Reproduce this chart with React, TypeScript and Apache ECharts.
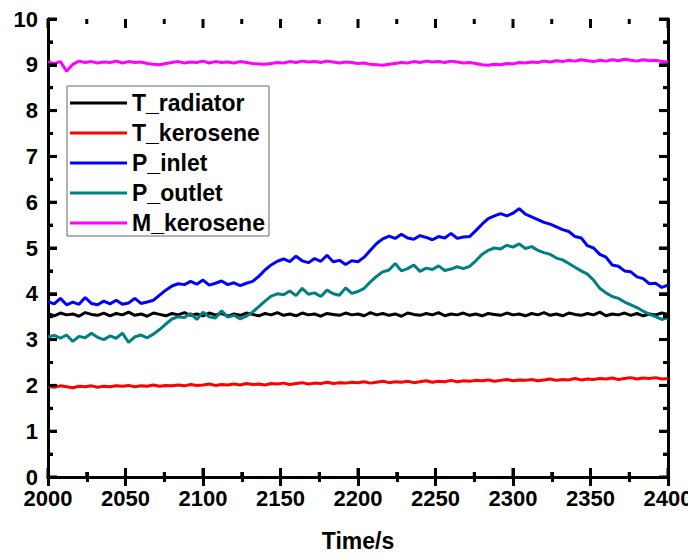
import React, { useEffect, useRef } from "react";
import * as echarts from "echarts";

// sampling grid (s), one sample every 4 s
const TIMES: number[] = Array.from({ length: 101 }, (_, i) => 2000 + i * 4);

const T_RADIATOR = [
  3.57,3.52,3.58,3.54,3.56,3.51,3.59,3.55,3.53,3.58,
  3.52,3.57,3.54,3.60,3.53,3.56,3.51,3.58,3.55,3.52,
  3.57,3.54,3.59,3.53,3.56,3.52,3.58,3.54,3.57,3.51,
  3.56,3.53,3.58,3.55,3.52,3.57,3.54,3.59,3.53,3.56,
  3.52,3.58,3.54,3.56,3.51,3.57,3.55,3.53,3.58,3.54,
  3.56,3.52,3.59,3.54,3.57,3.53,3.56,3.51,3.58,3.55,
  3.53,3.57,3.54,3.59,3.52,3.56,3.54,3.58,3.53,3.56,
  3.52,3.57,3.55,3.53,3.58,3.54,3.56,3.52,3.57,3.54,
  3.59,3.53,3.56,3.52,3.58,3.55,3.53,3.57,3.54,3.60,
  3.52,3.56,3.54,3.58,3.53,3.57,3.52,3.56,3.54,3.58,3.55,
];

const T_KEROSENE = [
  1.98,1.96,1.99,1.97,1.95,1.98,1.97,1.99,1.96,1.98,
  1.97,1.99,1.98,2.00,1.97,1.99,1.98,2.01,1.98,2.00,
  1.99,2.01,1.99,2.02,2.00,2.01,2.03,2.00,2.02,2.01,
  2.03,2.01,2.04,2.02,2.03,2.01,2.04,2.03,2.05,2.02,
  2.04,2.06,2.03,2.05,2.04,2.07,2.04,2.06,2.05,2.07,
  2.06,2.08,2.05,2.07,2.09,2.06,2.08,2.07,2.09,2.06,
  2.08,2.10,2.07,2.09,2.08,2.11,2.08,2.10,2.09,2.11,
  2.10,2.12,2.09,2.11,2.13,2.10,2.12,2.11,2.13,2.10,
  2.12,2.14,2.11,2.13,2.12,2.15,2.12,2.14,2.13,2.15,
  2.14,2.16,2.13,2.15,2.17,2.14,2.16,2.15,2.17,2.14,2.15,
];

const P_INLET = [
  3.83,3.78,3.90,3.76,3.82,3.77,3.92,3.79,3.76,3.84,
  3.78,3.86,3.77,3.80,3.90,3.79,3.82,3.86,3.97,4.08,
  4.17,4.22,4.20,4.27,4.21,4.30,4.19,4.23,4.28,4.20,
  4.24,4.18,4.23,4.27,4.38,4.52,4.63,4.71,4.76,4.70,
  4.82,4.72,4.68,4.77,4.71,4.84,4.70,4.73,4.64,4.72,
  4.70,4.80,4.95,5.10,5.20,5.26,5.21,5.30,5.22,5.19,
  5.27,5.23,5.18,5.25,5.22,5.32,5.21,5.24,5.25,5.38,
  5.52,5.64,5.70,5.75,5.70,5.76,5.86,5.74,5.68,5.62,
  5.56,5.52,5.46,5.40,5.36,5.25,5.22,5.05,5.00,4.86,
  4.80,4.63,4.60,4.50,4.48,4.37,4.33,4.22,4.23,4.14,4.19,
];

const P_OUTLET = [
  3.06,3.09,3.03,3.10,2.96,3.07,3.04,3.14,3.05,3.00,
  3.08,3.03,3.14,2.94,3.06,3.10,3.04,3.12,3.22,3.34,
  3.45,3.50,3.48,3.57,3.44,3.60,3.50,3.47,3.63,3.49,
  3.53,3.45,3.51,3.60,3.72,3.84,3.95,4.00,3.98,4.06,
  3.96,4.12,3.99,4.02,3.94,4.08,4.00,3.97,4.13,4.01,
  4.05,4.12,4.26,4.38,4.48,4.52,4.66,4.50,4.55,4.63,
  4.49,4.56,4.53,4.61,4.51,4.54,4.59,4.55,4.60,4.72,
  4.86,4.95,5.00,4.98,5.06,5.02,5.09,4.99,5.03,4.95,
  4.90,4.86,4.78,4.74,4.66,4.58,4.50,4.43,4.30,4.12,
  4.02,3.94,3.90,3.82,3.76,3.70,3.62,3.55,3.50,3.44,3.48,
];

const M_KEROSENE = [
  9.06,9.03,9.07,8.86,9.01,9.08,9.05,9.07,9.04,9.06,
  9.05,9.08,9.04,9.07,9.05,9.06,9.03,9.01,9.00,9.03,
  9.05,9.07,9.04,9.06,9.05,9.08,9.04,9.07,9.05,9.06,
  9.04,9.07,9.05,9.03,9.02,9.01,9.03,9.05,9.04,9.07,
  9.05,9.08,9.06,9.07,9.05,9.08,9.06,9.04,9.06,9.05,
  9.03,9.04,9.01,9.00,8.99,9.01,9.03,9.05,9.04,9.07,
  9.05,9.08,9.06,9.07,9.05,9.08,9.06,9.04,9.05,9.03,
  9.00,8.99,9.01,9.00,9.03,9.02,9.05,9.04,9.06,9.05,
  9.08,9.06,9.09,9.07,9.10,9.08,9.11,9.09,9.07,9.10,
  9.08,9.11,9.09,9.12,9.10,9.08,9.11,9.09,9.10,9.07,9.06,
];

const SERIES_NAMES = ["T_radiator", "T_kerosene", "P_inlet", "P_outlet", "M_kerosene"];
const SERIES_VALUES = [T_RADIATOR, T_KEROSENE, P_INLET, P_OUTLET, M_KEROSENE];
const SERIES_COLORS = ["#000000", "#ff0000", "#0000ff", "#008080", "#ff00ff"];

// tick values of the framed axes
const X_MAJOR_TICKS = [2000, 2050, 2100, 2150, 2200, 2250, 2300, 2350, 2400];
const X_MINOR_TICKS = [2025, 2075, 2125, 2175, 2225, 2275, 2325, 2375];
const Y_MAJOR_TICKS = [0, 1, 2, 3, 4, 5, 6, 7, 8, 9, 10];
const Y_MINOR_TICKS = [0.5, 1.5, 2.5, 3.5, 4.5, 5.5, 6.5, 7.5, 8.5, 9.5];
const X_MIN = 2000, X_MAX = 2400, Y_MIN = 0, Y_MAX = 10;

const FONT = "Arial, 'Liberation Sans', sans-serif";
const MAJOR_LEN = 9;
const MINOR_LEN = 5;

function axisCommon(showLabel: boolean) {
  return {
    axisLine: { show: true, lineStyle: { color: "#000", width: 3 } },
    axisTick: { show: true, inside: true, length: MAJOR_LEN, lineStyle: { color: "#000", width: 3 } },
    minorTick: { show: true, splitNumber: 2, length: MINOR_LEN, lineStyle: { color: "#000", width: 3 } },
    splitLine: { show: false },
    axisLabel: {
      show: showLabel,
      color: "#000",
      fontWeight: "bold",
      fontSize: 22,
      fontFamily: FONT,
      margin: 10,
      showMinLabel: true,
      showMaxLabel: true,
      formatter: (v: number) => String(v),
    },
  };
}

// tick items: [x, y, direction, length]; direction 0 up, 1 down, 2 right, 3 left
function buildTickData() {
  const d: number[][] = [];
  X_MAJOR_TICKS.forEach((x) => { d.push([x, Y_MIN, 0, MAJOR_LEN]); d.push([x, Y_MAX, 1, MAJOR_LEN]); });
  X_MINOR_TICKS.forEach((x) => { d.push([x, Y_MIN, 0, MINOR_LEN]); d.push([x, Y_MAX, 1, MINOR_LEN]); });
  Y_MAJOR_TICKS.forEach((y) => { d.push([X_MIN, y, 2, MAJOR_LEN]); d.push([X_MAX, y, 3, MAJOR_LEN]); });
  Y_MINOR_TICKS.forEach((y) => { d.push([X_MIN, y, 2, MINOR_LEN]); d.push([X_MAX, y, 3, MINOR_LEN]); });
  return d;
}

export default function App() {
  const ref = useRef<HTMLDivElement>(null);
  useEffect(() => {
    if (!ref.current) return;
    const chart = echarts.init(ref.current, undefined, { renderer: "svg" });
    chart.setOption({
      animation: false,
      backgroundColor: "#ffffff",
      grid: { left: 48, right: 28, top: 19, bottom: 79 },
      legend: {
        orient: "vertical",
        left: 67,
        top: 86,
        data: SERIES_NAMES,
        icon: "rect",
        itemWidth: 57,
        itemHeight: 3,
        itemGap: 6,
        padding: [5, 4, 1, 3],
        borderColor: "#666",
        borderWidth: 1,
        backgroundColor: "#fff",
        textStyle: { color: "#000", fontWeight: "bold", fontSize: 23, fontFamily: FONT, lineHeight: 24 },
      },
      xAxis: [
        {
          type: "value",
          position: "bottom",
          min: X_MIN,
          max: X_MAX,
          interval: 50,
          name: "Time/s",
          nameLocation: "middle",
          nameGap: 52,
          nameTextStyle: { color: "#000", fontWeight: "bold", fontSize: 23, fontFamily: FONT },
          ...axisCommon(true),
        },
        { type: "value", position: "top", min: X_MIN, max: X_MAX, interval: 50, ...axisCommon(false) },
      ],
      yAxis: [
        { type: "value", position: "left", min: Y_MIN, max: Y_MAX, interval: 1, ...axisCommon(true) },
        { type: "value", position: "right", min: Y_MIN, max: Y_MAX, interval: 1, ...axisCommon(false) },
      ],
      series: [
        ...SERIES_NAMES.map((name, k) => ({
          name,
          type: "line",
          xAxisIndex: 0,
          yAxisIndex: 0,
          showSymbol: false,
          symbol: "none",
          color: SERIES_COLORS[k],
          lineStyle: { color: SERIES_COLORS[k], width: 3 },
          data: TIMES.map((t, i) => [t, SERIES_VALUES[k][i]]),
        })),
        {
          name: "ticks",
          type: "custom",
          xAxisIndex: 0,
          yAxisIndex: 0,
          silent: true,
          clip: false,
          z: 10,
          data: buildTickData(),
          renderItem: (_params: any, api: any) => {
            const p = api.coord([api.value(0), api.value(1)]);
            const dir = api.value(2);
            const len = api.value(3);
            let x2 = p[0], y2 = p[1];
            if (dir === 0) y2 -= len;
            else if (dir === 1) y2 += len;
            else if (dir === 2) x2 += len;
            else x2 -= len;
            return {
              type: "line",
              shape: { x1: p[0], y1: p[1], x2, y2 },
              style: { stroke: "#000", lineWidth: 3 },
            };
          },
        },
      ],
    });
    return () => chart.dispose();
  }, []);
  return <div ref={ref} style={{ width: 696, height: 557, margin: -8 }} />;
}
